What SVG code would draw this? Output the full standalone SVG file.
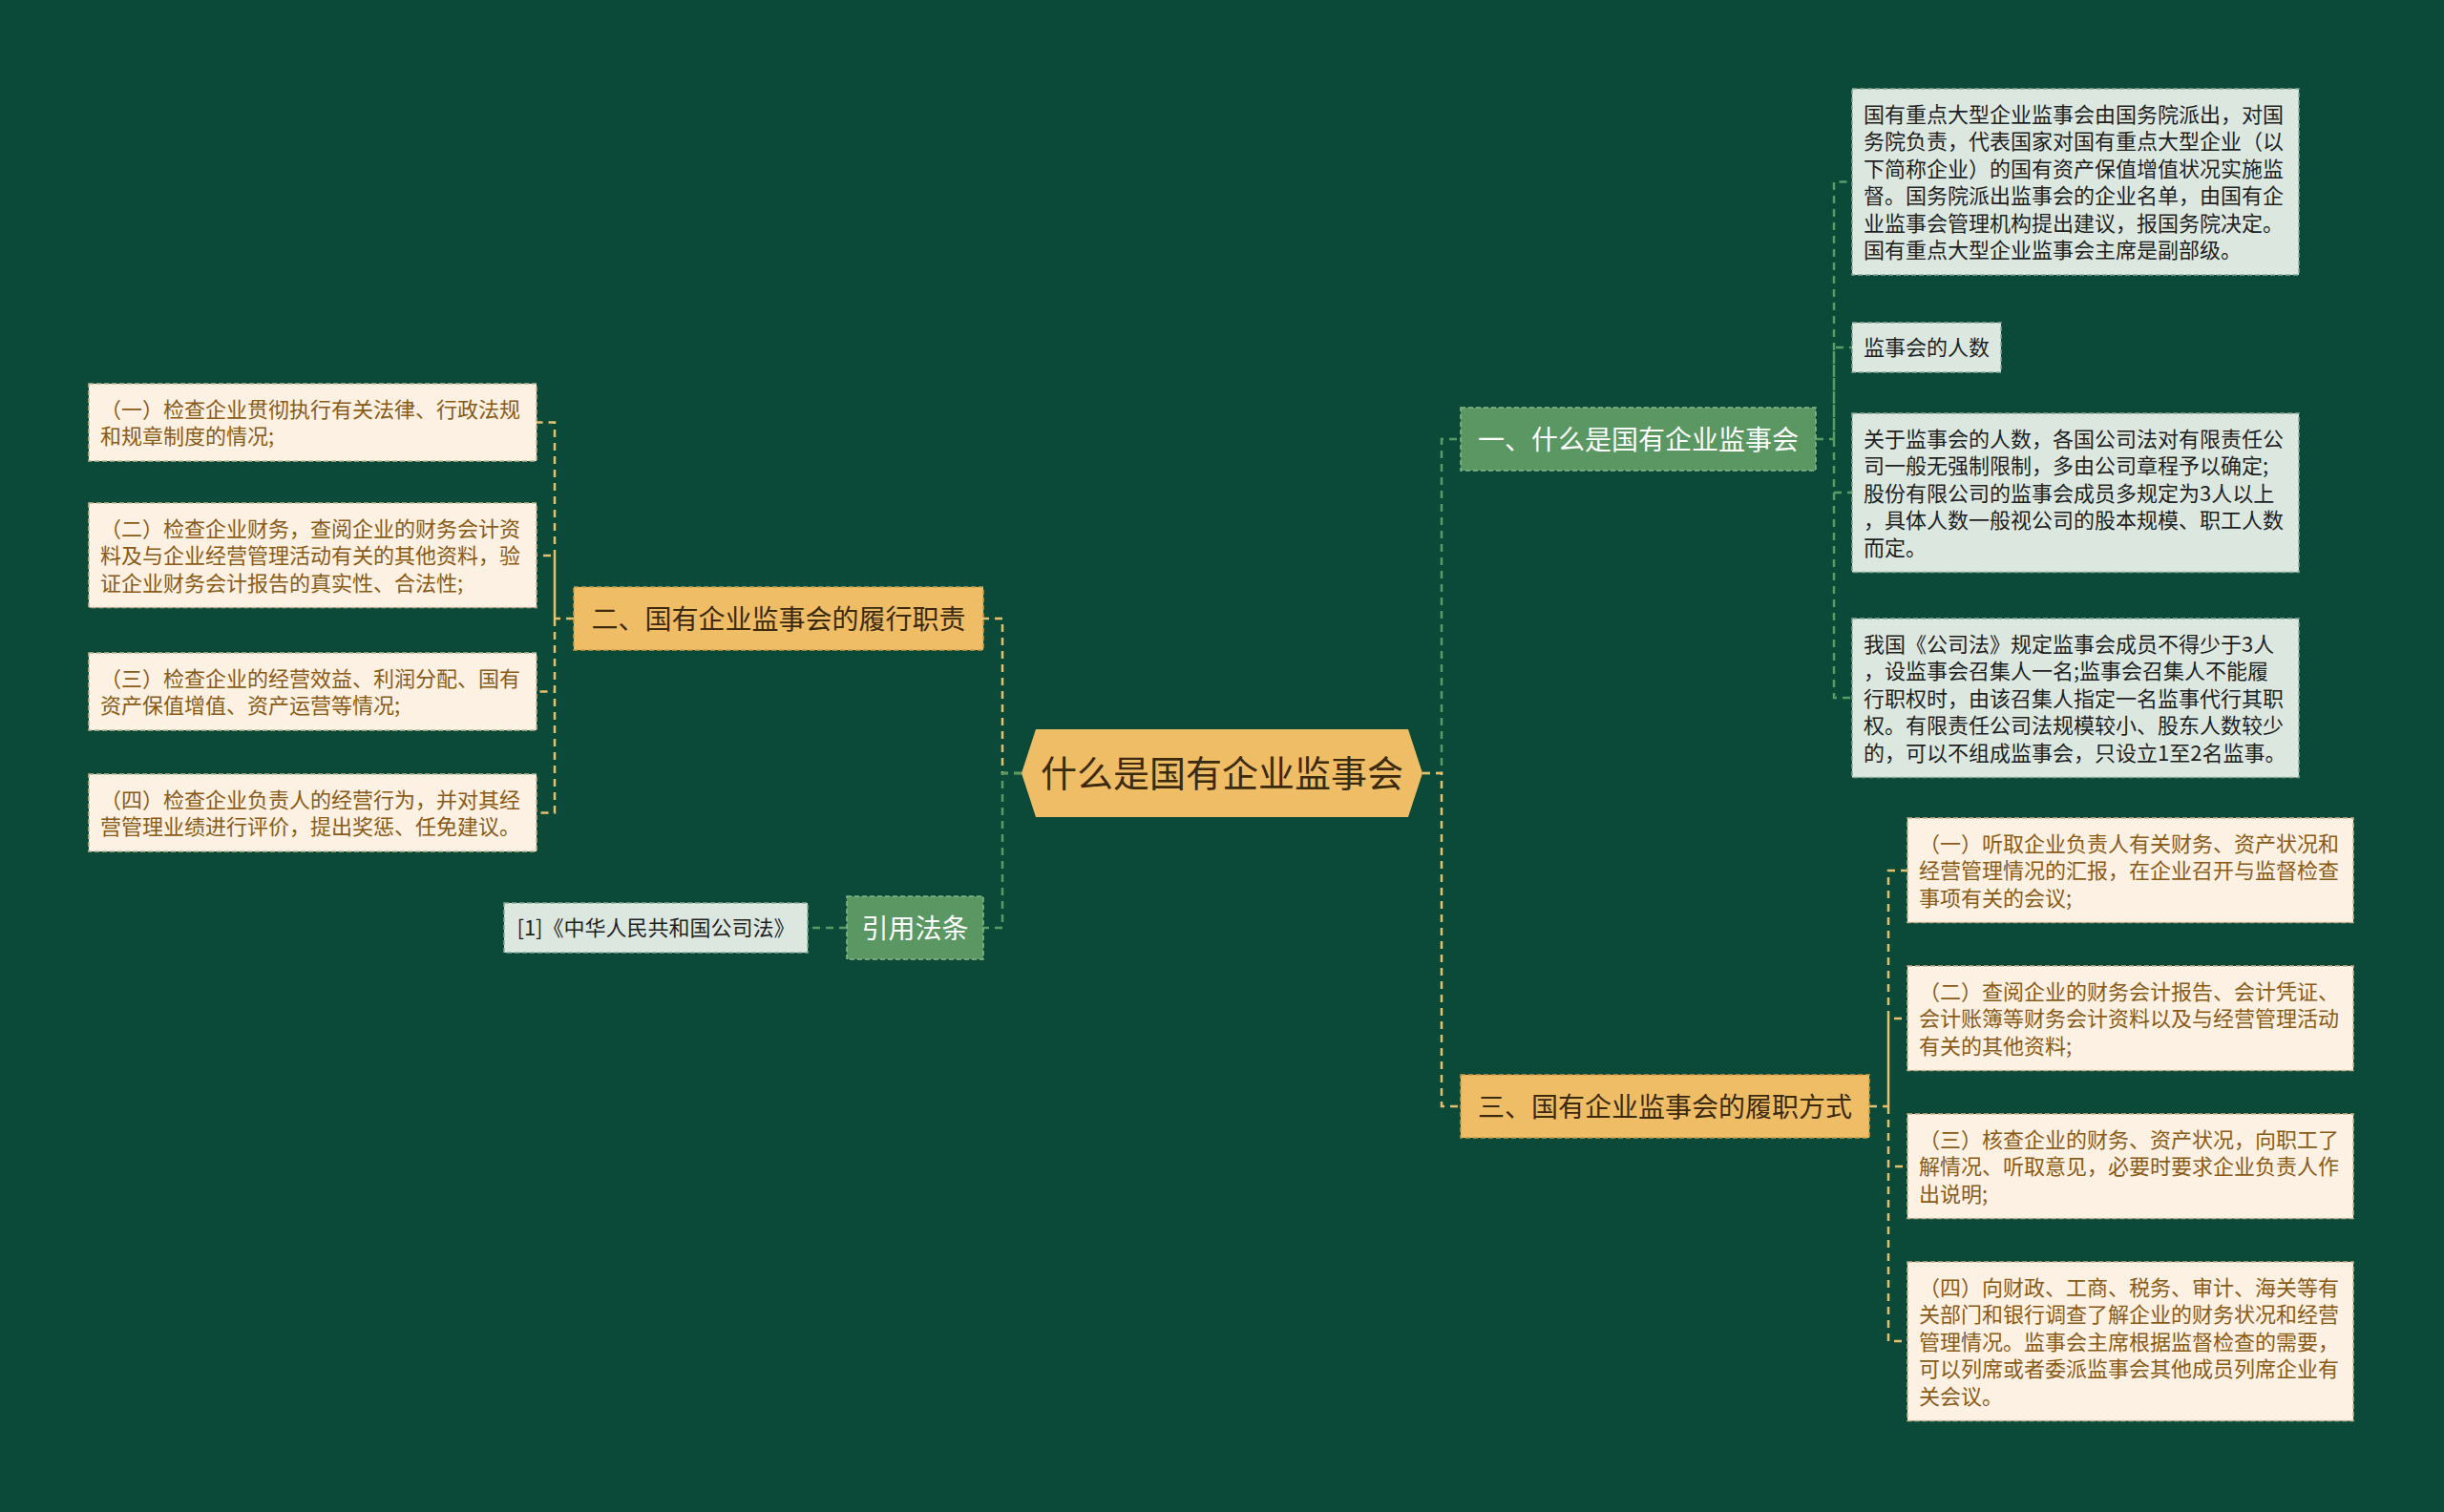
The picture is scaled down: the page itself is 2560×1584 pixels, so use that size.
<svg xmlns="http://www.w3.org/2000/svg" width="2560" height="1584" viewBox="0 0 2560 1584">
<style>
text{font-family:"Noto Sans CJK SC","Noto Sans",sans-serif}
.gold{fill:#f0bd67;stroke:#c99a45;stroke-width:1.5;stroke-dasharray:5 3}
.green{fill:#5a9762;stroke:#86b88b;stroke-width:1.5;stroke-dasharray:5 3}
.lg{fill:#dce8df;stroke:#8aa898;stroke-width:1.5;stroke-dasharray:5 3}
.cream{fill:#fcf1e2;stroke:#c9b48f;stroke-width:1.5;stroke-dasharray:5 3}
.t22d{font-size:22px;fill:#1f1f1f}
.t22b{font-size:22px;fill:#8a5b17}
.t28d{font-size:28px;fill:#3b2a0e;text-anchor:middle}
.t28w{font-size:28px;fill:#ffffff;text-anchor:middle}
.cg{fill:none;stroke:#5a9a64;stroke-width:2.5;stroke-dasharray:8 6}
.cy{fill:none;stroke:#e6c06c;stroke-width:2.5;stroke-dasharray:8 6}
</style>
<rect width="2560" height="1584" fill="#0b4a38"/>
<g id="connectors">
<path class="cg" d="M1490,810 H1510 V460 H1530"/>
<path class="cy" d="M1490,810 H1510 V1159 H1530"/>
<path class="cy" d="M1070,810 H1050 V648 H1030"/>
<path class="cg" d="M1070,810 H1050 V972 H1030"/>
<path class="cg" d="M1902,460 H1921 V190.5 H1940 M1921,460 V364 H1940 M1921,460 V516 H1940 M1921,460 V731 H1940"/>
<path class="cy" d="M1958,1159 H1978 V912 H1998 M1978,1159 V1067 H1998 M1978,1159 V1222 H1998 M1978,1159 V1405 H1998"/>
<path class="cy" d="M601,648 H581 V442.5 H562 M581,648 V582 H562 M581,648 V724.5 H562 M581,648 V851.5 H562"/>
<path class="cg" d="M887,972 H846"/>
</g>
<g id="center">
<polygon points="1070,810 1085,764 1475,764 1490,810 1475,856 1085,856" fill="#f0bd67"/>
<text x="1280" y="824.4" font-size="38" fill="#3b2a0e" text-anchor="middle">什么是国有企业监事会</text>
</g>
<g id="branch1">
<rect class="green" x="1530" y="427" width="372" height="66"/>
<text class="t28w" x="1716" y="470.6">一、什么是国有企业监事会</text>
</g>
<g id="branch2">
<rect class="gold" x="601" y="615" width="429" height="66"/>
<text class="t28d" x="815.5" y="658.6">二、国有企业监事会的履行职责</text>
</g>
<g id="branch3">
<rect class="gold" x="1530" y="1126" width="428" height="66"/>
<text class="t28d" x="1744" y="1169.6">三、国有企业监事会的履职方式</text>
</g>
<g id="branch4">
<rect class="green" x="887" y="939" width="143" height="66"/>
<text class="t28w" x="958.5" y="982.6">引用法条</text>
</g>
<g id="r1">
<rect class="lg" x="1940" y="93" width="468" height="195"/>
<text class="t22d" x="1952" y="127.6"><tspan x="1952">国有重点大型企业监事会由国务院派出，对国</tspan><tspan x="1952" dy="28.5">务院负责，代表国家对国有重点大型企业（以</tspan><tspan x="1952" dy="28.5">下简称企业）的国有资产保值增值状况实施监</tspan><tspan x="1952" dy="28.5">督。国务院派出监事会的企业名单，由国有企</tspan><tspan x="1952" dy="28.5">业监事会管理机构提出建议，报国务院决定。</tspan><tspan x="1952" dy="28.5">国有重点大型企业监事会主席是副部级。</tspan></text>
</g>
<g id="r2">
<rect class="lg" x="1940" y="338" width="156" height="52"/>
<text class="t22d" x="1952" y="372.4">监事会的人数</text>
</g>
<g id="r3">
<rect class="lg" x="1940" y="433" width="468" height="166.5"/>
<text class="t22d" x="1952" y="467.6"><tspan x="1952">关于监事会的人数，各国公司法对有限责任公</tspan><tspan x="1952" dy="28.5">司一般无强制限制，多由公司章程予以确定;</tspan><tspan x="1952" dy="28.5">股份有限公司的监事会成员多规定为3人以上</tspan><tspan x="1952" dy="28.5">，具体人数一般视公司的股本规模、职工人数</tspan><tspan x="1952" dy="28.5">而定。</tspan></text>
</g>
<g id="r4">
<rect class="lg" x="1940" y="648" width="468" height="166.5"/>
<text class="t22d" x="1952" y="682.6"><tspan x="1952">我国《公司法》规定监事会成员不得少于3人</tspan><tspan x="1952" dy="28.5">，设监事会召集人一名;监事会召集人不能履</tspan><tspan x="1952" dy="28.5">行职权时，由该召集人指定一名监事代行其职</tspan><tspan x="1952" dy="28.5">权。有限责任公司法规模较小、股东人数较少</tspan><tspan x="1952" dy="28.5">的，可以不组成监事会，只设立1至2名监事。</tspan></text>
</g>
<g id="f1">
<rect class="cream" x="1998" y="857" width="467" height="109.5"/>
<text class="t22b" x="2010" y="891.6"><tspan x="2010">（一）听取企业负责人有关财务、资产状况和</tspan><tspan x="2010" dy="28.5">经营管理情况的汇报，在企业召开与监督检查</tspan><tspan x="2010" dy="28.5">事项有关的会议;</tspan></text>
</g>
<g id="f2">
<rect class="cream" x="1998" y="1012" width="467" height="109.5"/>
<text class="t22b" x="2010" y="1046.6"><tspan x="2010">（二）查阅企业的财务会计报告、会计凭证、</tspan><tspan x="2010" dy="28.5">会计账簿等财务会计资料以及与经营管理活动</tspan><tspan x="2010" dy="28.5">有关的其他资料;</tspan></text>
</g>
<g id="f3">
<rect class="cream" x="1998" y="1167" width="467" height="109.5"/>
<text class="t22b" x="2010" y="1201.6"><tspan x="2010">（三）核查企业的财务、资产状况，向职工了</tspan><tspan x="2010" dy="28.5">解情况、听取意见，必要时要求企业负责人作</tspan><tspan x="2010" dy="28.5">出说明;</tspan></text>
</g>
<g id="f4">
<rect class="cream" x="1998" y="1322" width="467" height="166.5"/>
<text class="t22b" x="2010" y="1356.6"><tspan x="2010">（四）向财政、工商、税务、审计、海关等有</tspan><tspan x="2010" dy="28.5">关部门和银行调查了解企业的财务状况和经营</tspan><tspan x="2010" dy="28.5">管理情况。监事会主席根据监督检查的需要，</tspan><tspan x="2010" dy="28.5">可以列席或者委派监事会其他成员列席企业有</tspan><tspan x="2010" dy="28.5">关会议。</tspan></text>
</g>
<g id="l1">
<rect class="cream" x="93" y="402" width="469" height="81"/>
<text class="t22b" x="105" y="436.6"><tspan x="105">（一）检查企业贯彻执行有关法律、行政法规</tspan><tspan x="105" dy="28.5">和规章制度的情况;</tspan></text>
</g>
<g id="l2">
<rect class="cream" x="93" y="527" width="469" height="109.5"/>
<text class="t22b" x="105" y="561.6"><tspan x="105">（二）检查企业财务，查阅企业的财务会计资</tspan><tspan x="105" dy="28.5">料及与企业经营管理活动有关的其他资料，验</tspan><tspan x="105" dy="28.5">证企业财务会计报告的真实性、合法性;</tspan></text>
</g>
<g id="l3">
<rect class="cream" x="93" y="684" width="469" height="81"/>
<text class="t22b" x="105" y="718.6"><tspan x="105">（三）检查企业的经营效益、利润分配、国有</tspan><tspan x="105" dy="28.5">资产保值增值、资产运营等情况;</tspan></text>
</g>
<g id="l4">
<rect class="cream" x="93" y="811" width="469" height="81"/>
<text class="t22b" x="105" y="845.6"><tspan x="105">（四）检查企业负责人的经营行为，并对其经</tspan><tspan x="105" dy="28.5">营管理业绩进行评价，提出奖惩、任免建议。</tspan></text>
</g>
<g id="law1">
<rect class="lg" x="528" y="946" width="318" height="52"/>
<text class="t22d" x="687" y="980.4" text-anchor="middle">[1]《中华人民共和国公司法》</text>
</g>
</svg>
